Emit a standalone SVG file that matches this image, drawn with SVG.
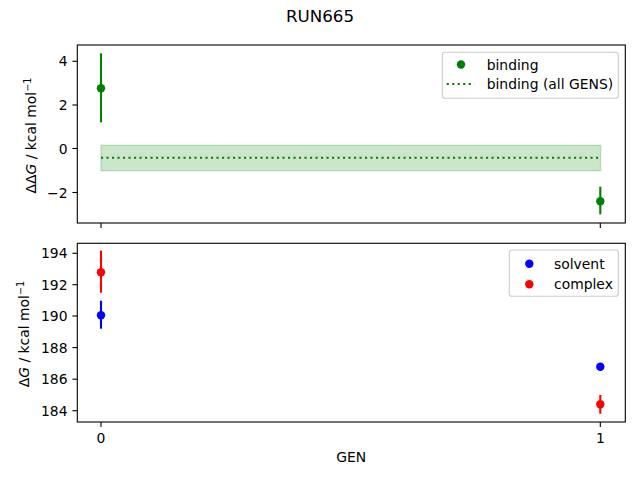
<svg xmlns="http://www.w3.org/2000/svg" width="640" height="480" viewBox="0 0 640 480">
<style>
text{font-family:"DejaVu Sans","Liberation Sans",sans-serif;font-size:13.9px;fill:#000}
.spine{fill:none;stroke:#000;stroke-width:1.1}
.tick{stroke:#000;stroke-width:1.1}
.yt{text-anchor:end}
.xt{text-anchor:middle}
.eg{stroke:#008000;stroke-width:2.1}
.eb{stroke:#0000ff;stroke-width:2.1}
.er{stroke:#ff0000;stroke-width:2.1}
.leg{fill:#fff;fill-opacity:0.8;stroke:#cccccc;stroke-width:1.1}
</style>
<rect width="640" height="480" fill="#fff"/>
<text x="320" y="22" text-anchor="middle" style="font-size:16.7px">RUN665</text>

<g id="top-axes">
<rect x="101" y="145.3" width="499.6" height="25.4" fill="#008000" fill-opacity="0.2" stroke="#008000" stroke-opacity="0.2" stroke-width="1.4"/>
<line x1="101" y1="157.7" x2="600.6" y2="157.7" stroke="#008000" stroke-width="2.1" stroke-dasharray="2.1,3.4"/>
<line class="eg" x1="101" y1="53.3" x2="101" y2="122.3"/>
<circle cx="101" cy="88.3" r="4.2" fill="#008000"/>
<line class="eg" x1="600.3" y1="186.7" x2="600.3" y2="214.3"/>
<circle cx="600.3" cy="201.3" r="4.2" fill="#008000"/>
<rect class="spine" x="77.3" y="45" width="548" height="178"/>
<g class="tick">
<line x1="77.3" y1="61.3" x2="72.4" y2="61.3"/>
<line x1="77.3" y1="105" x2="72.4" y2="105"/>
<line x1="77.3" y1="148.5" x2="72.4" y2="148.5"/>
<line x1="77.3" y1="192.5" x2="72.4" y2="192.5"/>
<line x1="101" y1="223" x2="101" y2="227.9"/>
<line x1="600.3" y1="223" x2="600.3" y2="227.9"/>
</g>
<text class="yt" x="67.5" y="66.3">4</text>
<text class="yt" x="67.5" y="110">2</text>
<text class="yt" x="67.5" y="153.5">0</text>
<text class="yt" x="67.5" y="197.5">−2</text>
<text transform="translate(35.5,135.5) rotate(-90)" text-anchor="middle">ΔΔ<tspan font-style="italic">G</tspan> / kcal mol<tspan dy="-5" style="font-size:9.7px">−1</tspan></text>
</g>

<g id="top-legend">
<rect class="leg" x="442.3" y="52.3" width="176" height="46" rx="2.8"/>
<circle cx="461" cy="64.5" r="4.2" fill="#008000"/>
<line x1="446.7" y1="84" x2="474.3" y2="84" stroke="#008000" stroke-width="2.1" stroke-dasharray="2.1,3.4"/>
<text x="486.7" y="69.5">binding</text>
<text x="486.7" y="88.9">binding (all GENS)</text>
</g>

<g id="bottom-axes">
<line class="er" x1="101" y1="250.7" x2="101" y2="292.7"/>
<circle cx="101" cy="272.3" r="4.2" fill="#ff0000"/>
<line class="eb" x1="101" y1="300.7" x2="101" y2="328.7"/>
<circle cx="101" cy="315.3" r="4.2" fill="#0000ff"/>
<circle cx="600.3" cy="366.7" r="4.2" fill="#0000ff"/>
<line class="er" x1="600.3" y1="395" x2="600.3" y2="413.7"/>
<circle cx="600.3" cy="404.3" r="4.2" fill="#ff0000"/>
<rect class="spine" x="77.3" y="243.3" width="548" height="178.7"/>
<g class="tick">
<line x1="77.3" y1="253.3" x2="72.4" y2="253.3"/>
<line x1="77.3" y1="284.7" x2="72.4" y2="284.7"/>
<line x1="77.3" y1="316" x2="72.4" y2="316"/>
<line x1="77.3" y1="347.6" x2="72.4" y2="347.6"/>
<line x1="77.3" y1="379.2" x2="72.4" y2="379.2"/>
<line x1="77.3" y1="410.7" x2="72.4" y2="410.7"/>
<line x1="101" y1="422" x2="101" y2="426.9"/>
<line x1="600.3" y1="422" x2="600.3" y2="426.9"/>
</g>
<text class="yt" x="67.5" y="258.3">194</text>
<text class="yt" x="67.5" y="289.7">192</text>
<text class="yt" x="67.5" y="321">190</text>
<text class="yt" x="67.5" y="352.6">188</text>
<text class="yt" x="67.5" y="384.2">186</text>
<text class="yt" x="67.5" y="415.7">184</text>
<text class="xt" x="101" y="442.5">0</text>
<text class="xt" x="600.3" y="442.5">1</text>
<text x="351.3" y="462" text-anchor="middle">GEN</text>
<text transform="translate(29,334) rotate(-90)" text-anchor="middle">Δ<tspan font-style="italic">G</tspan> / kcal mol<tspan dy="-5" style="font-size:9.7px">−1</tspan></text>
</g>

<g id="bottom-legend">
<rect class="leg" x="509.3" y="250" width="109" height="46.3" rx="2.8"/>
<circle cx="529.3" cy="263.7" r="4.2" fill="#0000ff"/>
<circle cx="529.3" cy="284.3" r="4.2" fill="#ff0000"/>
<text x="554" y="268.7">solvent</text>
<text x="554" y="289.3">complex</text>
</g>
</svg>
